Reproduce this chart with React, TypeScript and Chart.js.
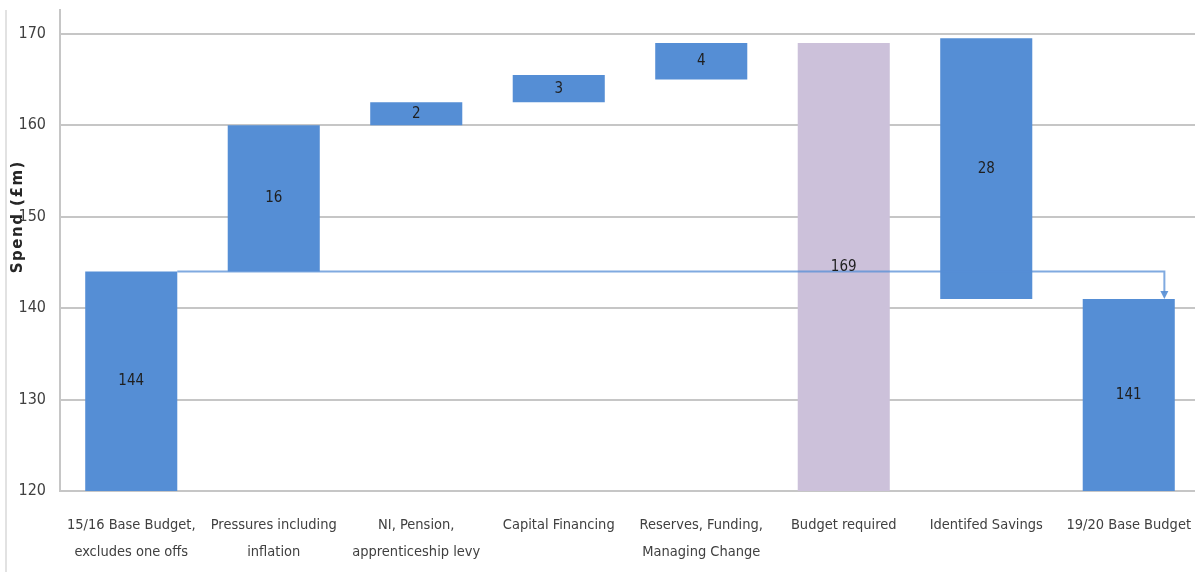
import React, { useEffect, useRef } from "react";
import { Chart, registerables } from "chart.js";

Chart.register(...registerables);

const categories: string[][] = [
  ["15/16 Base Budget,", "excludes one offs"],
  ["Pressures including", "inflation"],
  ["NI, Pension,", "apprenticeship levy"],
  ["Capital Financing"],
  ["Reserves, Funding,", "Managing Change"],
  ["Budget required"],
  ["Identifed Savings"],
  ["19/20 Base Budget"],
];
const barStart = [120, 144, 160, 162.5, 165, 120, 141, 120];
const barEnd = [144, 160, 162.5, 165.5, 169, 169, 169.5, 141];
const valueLabels = ["144", "16", "2", "3", "4", "169", "28", "141"];
const barColors = ["#558ed5", "#558ed5", "#558ed5", "#558ed5", "#558ed5", "#ccc1da", "#558ed5", "#558ed5"];
const yTicks = [120, 130, 140, 150, 160, 170];
const yMin = 120;
const yMax = 172.6;
const connectorFrom = 144;
const connectorTo = 141;
const yTitle = "Spend (£m)";

const FONT = "'Liberation Sans Narrow', 'DejaVu Sans Condensed', 'Liberation Sans', sans-serif";

function zeroPad(scale: any) {
  scale.paddingTop = 0;
  scale.paddingBottom = 0;
  scale.paddingLeft = 0;
  scale.paddingRight = 0;
}

export default function App() {
  const ref = useRef<HTMLCanvasElement>(null);
  useEffect(() => {
    document.body.style.margin = "0";
    const canvas = ref.current!;
    const decor = {
      id: "decor",
      beforeDraw(chart: any) {
        const ctx = chart.ctx;
        ctx.save();
        ctx.strokeStyle = "#d9d9d9";
        ctx.lineWidth = 1.5;
        ctx.beginPath();
        ctx.moveTo(6, chart.chartArea.top);
        ctx.lineTo(6, chart.height);
        ctx.stroke();
        ctx.restore();
      },
      afterDatasetsDraw(chart: any) {
        const ctx = chart.ctx;
        const x = chart.scales.x;
        const y = chart.scales.y;
        const meta = chart.getDatasetMeta(0);
        const first = meta.data[0] as any;
        const last = meta.data[meta.data.length - 1] as any;
        const step = x.getPixelForValue(1) - x.getPixelForValue(0);
        const x0 = first.x + first.width / 2;
        const x1 = last.x + step * 0.25;
        const yA = y.getPixelForValue(connectorFrom);
        const yB = y.getPixelForValue(connectorTo);
        ctx.save();
        ctx.strokeStyle = "rgba(85,142,213,0.75)";
        ctx.fillStyle = "rgba(85,142,213,0.9)";
        ctx.lineWidth = 2;
        ctx.beginPath();
        ctx.moveTo(x0, yA);
        ctx.lineTo(x1, yA);
        ctx.lineTo(x1, yB - 6);
        ctx.stroke();
        ctx.beginPath();
        ctx.moveTo(x1 - 4, yB - 8);
        ctx.lineTo(x1 + 4, yB - 8);
        ctx.lineTo(x1, yB);
        ctx.closePath();
        ctx.fill();
        // value labels
        ctx.fillStyle = "#1f1f1f";
        ctx.font = `15px ${FONT}`;
        ctx.textAlign = "center";
        ctx.textBaseline = "middle";
        meta.data.forEach((el: any, i: number) => {
          ctx.fillText(valueLabels[i], el.x, (el.y + el.base) / 2);
        });
        // y title
        ctx.translate(18, y.getPixelForValue(150));
        ctx.rotate(-Math.PI / 2);
        ctx.font = `bold 15px 'DejaVu Sans', sans-serif`;
        (ctx as any).letterSpacing = "1.5px";
        ctx.fillStyle = "#262626";
        ctx.fillText(yTitle, 0, 0);
        ctx.restore();
      },
    };
    const chart = new Chart(canvas, {
      type: "bar",
      data: {
        labels: categories,
        datasets: [
          {
            data: barStart.map((s, i) => [s, barEnd[i]]) as any,
            backgroundColor: barColors,
            borderWidth: 0,
            barPercentage: 0.646,
            categoryPercentage: 1,
          },
        ],
      },
      options: {
        animation: false,
        responsive: true,
        maintainAspectRatio: false,
        layout: { padding: { top: 10, left: 0, right: 0, bottom: 0 } },
        plugins: { legend: { display: false }, tooltip: { enabled: false } },
        scales: {
          x: {
            grid: { display: false },
            border: { display: false },
            ticks: {
              font: { family: FONT, size: 14.5, lineHeight: 1.9 },
              color: "#404040",
              maxRotation: 0,
              autoSkip: false,
              padding: 12,
            },
            afterFit(scale: any) {
              scale.height = 81;
              zeroPad(scale);
            },
          },
          y: {
            min: yMin,
            max: yMax,
            afterBuildTicks(scale: any) {
              scale.ticks = yTicks.map((v) => ({ value: v }));
            },
            grid: { color: "#c6c6c6", lineWidth: 2, drawTicks: false },
            border: { display: true, color: "#c6c6c6", width: 2 },
            ticks: {
              font: { family: FONT, size: 16 },
              color: "#404040",
              padding: 14,
            },
            afterFit(scale: any) {
              scale.width = 60;
              zeroPad(scale);
            },
          },
        },
      },
      plugins: [decor],
    });
    return () => chart.destroy();
  }, []);
  return (
    <div style={{ width: 1195, height: 572, overflow: "hidden", position: "relative" }}>
      <div style={{ width: 1200, height: 572, position: "relative" }}>
        <canvas ref={ref} />
      </div>
    </div>
  );
}
